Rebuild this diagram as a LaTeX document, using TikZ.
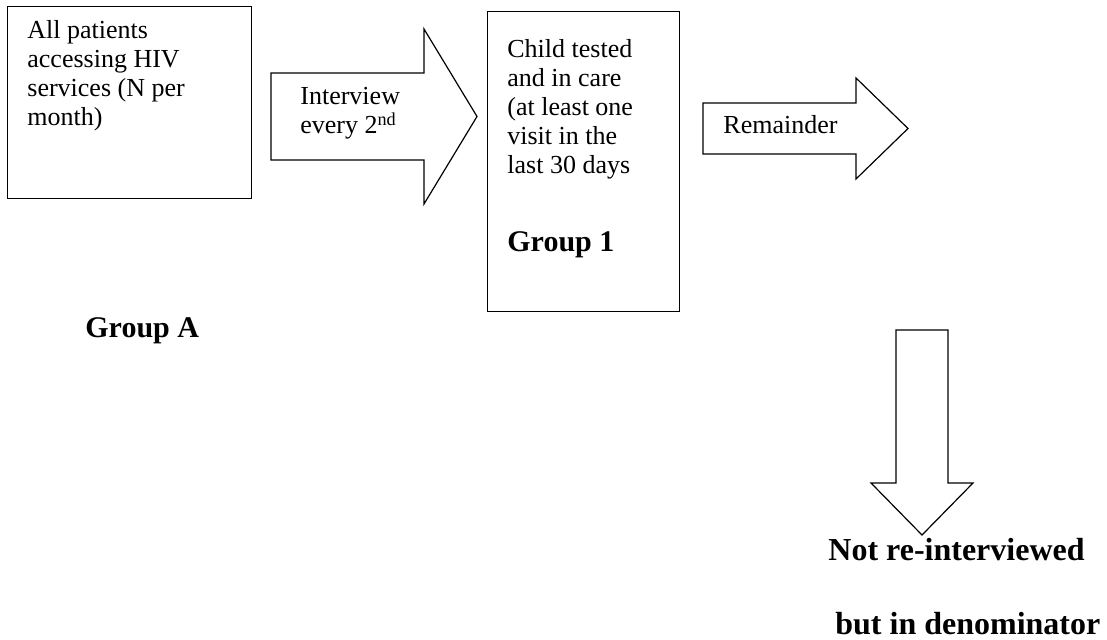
\documentclass[tikz,border=0pt]{standalone}
\usepackage{fontspec}
\setmainfont{Liberation Serif}
\usetikzlibrary{positioning}

\tikzset{
  box/.style={draw, line width=0.6pt, inner sep=0pt, anchor=north west},
  blockarrow/.style={draw, line width=0.6pt, line join=miter},
  boxtext/.style={anchor=base west, inner sep=0pt, align=left, font=\fontsize{13}{14.4}\selectfont},
  grouptext/.style={anchor=base west, inner sep=0pt, font=\fontsize{15}{18}\selectfont\bfseries}
}

\begin{document}
\begin{tikzpicture}[x=0.5pt, y=-0.5pt]
  \useasboundingbox (0,0) rectangle (1107,640);

  % boxes
  \node [box, minimum width=122pt, minimum height=96pt] (patients) at (7,6) {};
  \node [box, minimum width=96pt, minimum height=150pt] (tested) at (487,11) {};

  % texts (anchored at the baseline of the last line)
  \node [boxtext] (patientstxt) at (27,125.4) {All patients\\accessing HIV\\services (N per\\month)};
  \node [boxtext] (testedtxt) at (507,173.2) {Child tested\\and in care\\(at least one\\visit in the\\last 30 days};
  \node [grouptext] (groupone) at (507,252) {Group 1};
  \node [boxtext] (interview) at (300,133.8) {Interview\\every 2\textsuperscript{nd}};
  \node [boxtext] (remainder) at (723,134) {Remainder};
  \node [grouptext] (groupa) at (85,338) {Group A};
  \node [grouptext, font=\fontsize{16}{18}\selectfont\bfseries] (notre) at (828,560) {Not re-interviewed};
  \node [grouptext, font=\fontsize{16}{18}\selectfont\bfseries] (denom) at (835,634) {but in denominator};

  % block arrows
  \draw [blockarrow] (271,73) -- (424,73) -- (424,29) -- (477,116.5) -- (424,204) -- (424,160) -- (271,160) -- cycle;
  \draw [blockarrow] (703,103) -- (856,103) -- (856,78) -- (908,128.5) -- (856,179) -- (856,154) -- (703,154) -- cycle;
  \draw [blockarrow] (896,330) -- (948,330) -- (948,483) -- (973,483) -- (922,535) -- (871,483) -- (896,483) -- cycle;
\end{tikzpicture}
\end{document}
